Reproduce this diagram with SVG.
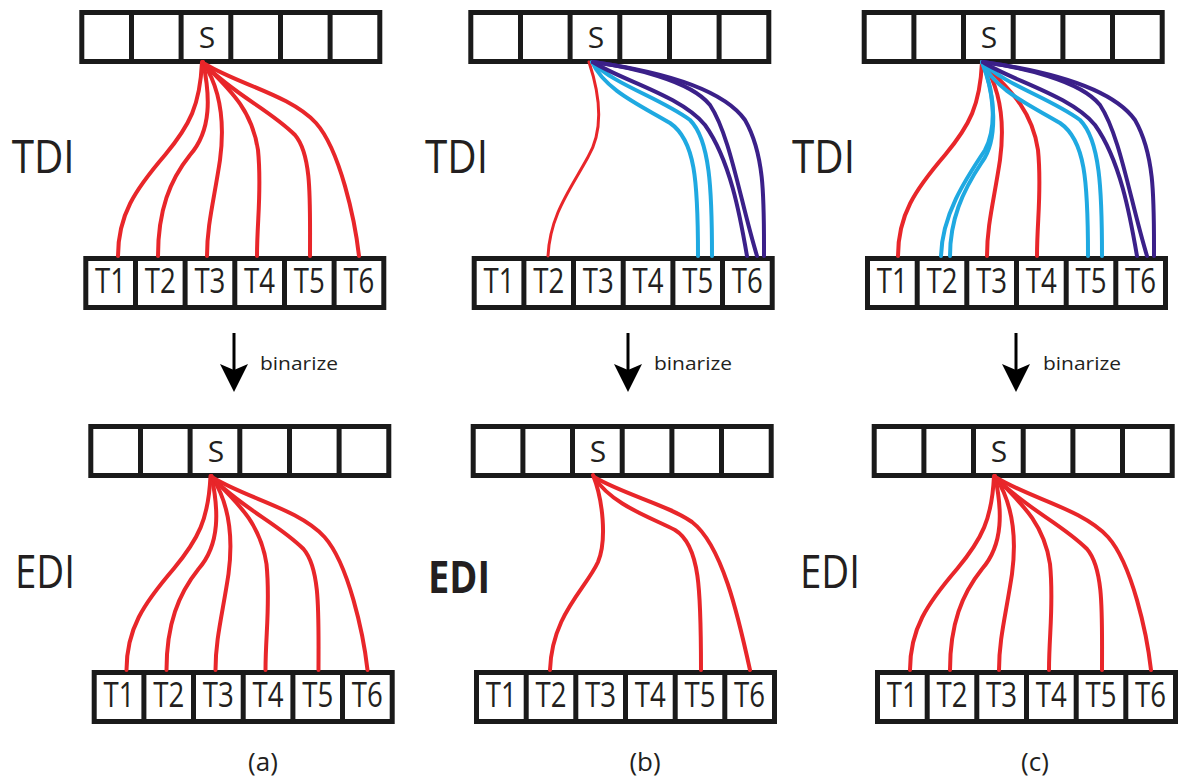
<svg xmlns="http://www.w3.org/2000/svg" xmlns:xlink="http://www.w3.org/1999/xlink" width="1179" height="783" viewBox="0 0 1179 783">
<style>
.box{fill:#fff;stroke:#1a1a1a;stroke-width:5}
.div{stroke:#1a1a1a;stroke-width:5}
.s{font-family:"Open Sans","Liberation Sans",sans-serif;font-size:30px;fill:#231f20;text-anchor:middle}
.t{font-family:"Open Sans","Liberation Sans",sans-serif;font-size:35px;fill:#231f20;text-anchor:middle}
.lab{font-family:"Open Sans","Liberation Sans",sans-serif;font-size:45px;fill:#231f20}
.bin{font-family:"Open Sans","Liberation Sans",sans-serif;font-size:19px;fill:#231f20}
.cap{font-family:"Open Sans","Liberation Sans",sans-serif;font-size:26px;fill:#231f20;text-anchor:middle}
.r{fill:none;stroke:#e8262a;stroke-width:4;stroke-linecap:round}
.rt{fill:none;stroke:#e8262a;stroke-width:3;stroke-linecap:round}
.c{fill:none;stroke:#1fa9e1;stroke-width:4;stroke-linecap:round}
.p{fill:none;stroke:#3b2089;stroke-width:4;stroke-linecap:round}
.ar{stroke:#000;stroke-width:3}
</style>
<defs>
<g id="strip">
<rect class="box" x="2.5" y="2.5" width="298" height="49"/>
<path class="div" d="M52.2,2.5V51.5M101.8,2.5V51.5M151.5,2.5V51.5M201.2,2.5V51.5M250.8,2.5V51.5"/>
</g>
<g id="edgesA">
<path class="r" d="M202,62 C200,105 190,125 165,155 C135,190 118,215 118,256"/>
<path class="r" d="M203,62 C210,95 212,130 190,155 C170,180 158,210 158,256"/>
<path class="r" d="M203,62 C218,85 226,115 220,160 C214,200 207,225 207,256"/>
<path class="r" d="M205,65 C230,90 252,110 258,150 C262,190 257,220 257,256"/>
<path class="r" d="M205,65 C235,95 270,110 295,135 C312,155 310,200 310,256"/>
<path class="r" d="M205,64 C240,85 290,95 316,123 C340,150 355,220 359,256"/>
</g>
<g id="edgesBlue">
<path class="c" d="M592,62 C605,90 640,105 670,123 C695,140 698,180 698,256"/>
<path class="c" d="M592,62 C615,85 660,98 690,120 C710,140 712,190 712,256"/>
<path class="p" d="M593,62 C620,80 680,95 705,125 C730,160 740,215 747,256"/>
<path class="p" d="M593,62 C630,67 690,80 710,105 C730,135 740,200 757,256"/>
<path class="p" d="M593,62 C650,70 720,85 745,120 C765,155 764,200 764,256"/>
</g>
</defs>

<!-- Panel (a) TDI -->
<g id="a-tdi-label"><text class="lab" x="11.7" y="172.7" textLength="63" lengthAdjust="spacingAndGlyphs">TDI</text></g>
<g id="a-tdi-source">
<use xlink:href="#strip" x="79.3" y="10"/>
<text class="s" x="207" y="48">S</text>
</g>
<g id="a-tdi-targets">
<use xlink:href="#strip" x="83.3" y="256"/>
<text class="t" x="110.6" y="293" textLength="31" lengthAdjust="spacingAndGlyphs">T1</text>
<text class="t" x="160.3" y="293" textLength="31" lengthAdjust="spacingAndGlyphs">T2</text>
<text class="t" x="209.9" y="293" textLength="31" lengthAdjust="spacingAndGlyphs">T3</text>
<text class="t" x="259.6" y="293" textLength="31" lengthAdjust="spacingAndGlyphs">T4</text>
<text class="t" x="309.3" y="293" textLength="31" lengthAdjust="spacingAndGlyphs">T5</text>
<text class="t" x="358.9" y="293" textLength="31" lengthAdjust="spacingAndGlyphs">T6</text>
</g>

<!-- Panel (b) TDI -->
<g id="b-tdi-label"><text class="lab" x="425" y="172.7" textLength="63" lengthAdjust="spacingAndGlyphs">TDI</text></g>
<g id="b-tdi-source">
<use xlink:href="#strip" x="468.3" y="10"/>
<text class="s" x="596" y="48">S</text>
</g>
<g id="b-tdi-targets">
<use xlink:href="#strip" x="471.7" y="256"/>
<text class="t" x="499" y="293" textLength="31" lengthAdjust="spacingAndGlyphs">T1</text>
<text class="t" x="548.7" y="293" textLength="31" lengthAdjust="spacingAndGlyphs">T2</text>
<text class="t" x="598.3" y="293" textLength="31" lengthAdjust="spacingAndGlyphs">T3</text>
<text class="t" x="648" y="293" textLength="31" lengthAdjust="spacingAndGlyphs">T4</text>
<text class="t" x="697.7" y="293" textLength="31" lengthAdjust="spacingAndGlyphs">T5</text>
<text class="t" x="747.3" y="293" textLength="31" lengthAdjust="spacingAndGlyphs">T6</text>
</g>

<!-- Panel (c) TDI -->
<g id="c-tdi-label"><text class="lab" x="792" y="172.7" textLength="63" lengthAdjust="spacingAndGlyphs">TDI</text></g>
<g id="c-tdi-source">
<use xlink:href="#strip" x="861.7" y="10"/>
<text class="s" x="989" y="48">S</text>
</g>
<g id="c-tdi-targets">
<use xlink:href="#strip" x="865" y="256"/>
<text class="t" x="892.3" y="293" textLength="31" lengthAdjust="spacingAndGlyphs">T1</text>
<text class="t" x="942" y="293" textLength="31" lengthAdjust="spacingAndGlyphs">T2</text>
<text class="t" x="991.6" y="293" textLength="31" lengthAdjust="spacingAndGlyphs">T3</text>
<text class="t" x="1041.3" y="293" textLength="31" lengthAdjust="spacingAndGlyphs">T4</text>
<text class="t" x="1091" y="293" textLength="31" lengthAdjust="spacingAndGlyphs">T5</text>
<text class="t" x="1140.6" y="293" textLength="31" lengthAdjust="spacingAndGlyphs">T6</text>
</g>

<!-- Panel (a) EDI -->
<g id="a-edi-label"><text class="lab" x="15" y="588" font-size="42" textLength="60" lengthAdjust="spacingAndGlyphs">EDI</text></g>
<g id="a-edi-source">
<use xlink:href="#strip" x="88.3" y="424"/>
<text class="s" x="216" y="462">S</text>
</g>
<g id="a-edi-targets">
<use xlink:href="#strip" x="91.7" y="670"/>
<text class="t" x="119" y="707" textLength="31" lengthAdjust="spacingAndGlyphs">T1</text>
<text class="t" x="168.7" y="707" textLength="31" lengthAdjust="spacingAndGlyphs">T2</text>
<text class="t" x="218.3" y="707" textLength="31" lengthAdjust="spacingAndGlyphs">T3</text>
<text class="t" x="268" y="707" textLength="31" lengthAdjust="spacingAndGlyphs">T4</text>
<text class="t" x="317.7" y="707" textLength="31" lengthAdjust="spacingAndGlyphs">T5</text>
<text class="t" x="367.3" y="707" textLength="31" lengthAdjust="spacingAndGlyphs">T6</text>
</g>

<!-- Panel (b) EDI -->
<g id="b-edi-label"><text class="lab" x="428" y="593" font-size="44" font-weight="bold" textLength="62" lengthAdjust="spacingAndGlyphs">EDI</text></g>
<g id="b-edi-source">
<use xlink:href="#strip" x="470.7" y="424"/>
<text class="s" x="598" y="462">S</text>
</g>
<g id="b-edi-targets">
<use xlink:href="#strip" x="474" y="670"/>
<text class="t" x="501.3" y="707" textLength="31" lengthAdjust="spacingAndGlyphs">T1</text>
<text class="t" x="551" y="707" textLength="31" lengthAdjust="spacingAndGlyphs">T2</text>
<text class="t" x="600.6" y="707" textLength="31" lengthAdjust="spacingAndGlyphs">T3</text>
<text class="t" x="650.3" y="707" textLength="31" lengthAdjust="spacingAndGlyphs">T4</text>
<text class="t" x="700" y="707" textLength="31" lengthAdjust="spacingAndGlyphs">T5</text>
<text class="t" x="749.6" y="707" textLength="31" lengthAdjust="spacingAndGlyphs">T6</text>
</g>

<!-- Panel (c) EDI -->
<g id="c-edi-label"><text class="lab" x="800" y="588" font-size="42" textLength="60" lengthAdjust="spacingAndGlyphs">EDI</text></g>
<g id="c-edi-source">
<use xlink:href="#strip" x="871.7" y="424"/>
<text class="s" x="999" y="462">S</text>
</g>
<g id="c-edi-targets">
<use xlink:href="#strip" x="875" y="670"/>
<text class="t" x="902.3" y="707" textLength="31" lengthAdjust="spacingAndGlyphs">T1</text>
<text class="t" x="952" y="707" textLength="31" lengthAdjust="spacingAndGlyphs">T2</text>
<text class="t" x="1001.6" y="707" textLength="31" lengthAdjust="spacingAndGlyphs">T3</text>
<text class="t" x="1051.3" y="707" textLength="31" lengthAdjust="spacingAndGlyphs">T4</text>
<text class="t" x="1101" y="707" textLength="31" lengthAdjust="spacingAndGlyphs">T5</text>
<text class="t" x="1150.6" y="707" textLength="31" lengthAdjust="spacingAndGlyphs">T6</text>
</g>

<!-- Connectors -->
<g id="connectors">
<use xlink:href="#edgesA"/>
<path class="rt" d="M589,62 C600,95 604,130 588,157 C570,190 550,215 548,256"/>
<use xlink:href="#edgesBlue"/>
<g transform="translate(780,0)">
<path class="r" d="M202,62 C200,105 190,125 165,155 C135,190 118,215 118,256"/>
<path class="r" d="M203,62 C218,85 226,115 220,160 C214,200 207,225 207,256"/>
<path class="r" d="M205,65 C230,90 252,110 258,150 C262,190 257,220 257,256"/>
</g>
<path class="c" d="M982,62 C993,90 998,125 985,150 C965,180 942,215 941,256"/>
<path class="c" d="M982,62 C996,95 998,140 982,162 C962,192 950,220 950,256"/>
<use xlink:href="#edgesBlue" transform="translate(390,0)"/>
<use xlink:href="#edgesA" transform="translate(8.5,414)"/>
<path class="r" d="M593,475 C603,500 607,540 598,562 C585,590 552,615 550,670"/>
<path class="r" d="M594,477 C612,505 650,517 675,530 C700,545 701,590 701,670"/>
<path class="r" d="M594,477 C625,495 668,505 692,522 C722,545 738,615 750,670"/>
<use xlink:href="#edgesA" transform="translate(792,414)"/>
</g>

<!-- binarize arrows -->
<g id="arrow-a">
<line class="ar" x1="234" y1="333" x2="234" y2="372"/>
<polygon points="220,364 234,370 248,364 234,392" fill="#000"/>
<text class="bin" x="260" y="370" textLength="78" lengthAdjust="spacingAndGlyphs">binarize</text>
</g>
<g id="arrow-b">
<line class="ar" x1="628" y1="333" x2="628" y2="372"/>
<polygon points="614,364 628,370 642,364 628,392" fill="#000"/>
<text class="bin" x="654" y="370" textLength="78" lengthAdjust="spacingAndGlyphs">binarize</text>
</g>
<g id="arrow-c">
<line class="ar" x1="1016" y1="333" x2="1016" y2="372"/>
<polygon points="1002,364 1016,370 1030,364 1016,392" fill="#000"/>
<text class="bin" x="1043" y="370" textLength="78" lengthAdjust="spacingAndGlyphs">binarize</text>
</g>

<!-- captions -->
<g id="captions">
<text class="cap" x="263" y="771">(a)</text>
<text class="cap" x="645" y="771">(b)</text>
<text class="cap" x="1035" y="771">(c)</text>
</g>
</svg>
